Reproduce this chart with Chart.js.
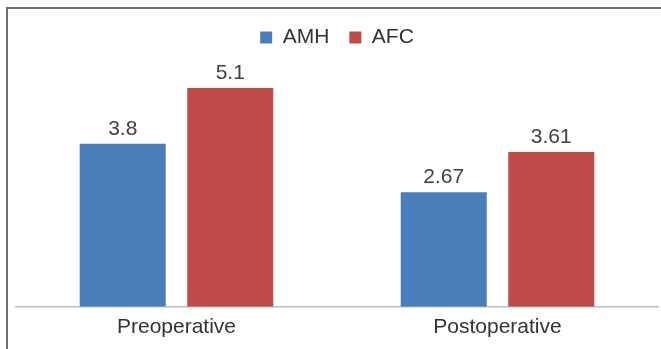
<!DOCTYPE html>
<html>
<head>
<meta charset="utf-8">
<script src="https://cdn.jsdelivr.net/npm/chart.js@4"></script>
<style>
  html, body { margin: 0; padding: 0; background: #fff; overflow: hidden; }
</style>
</head>
<body>
<canvas id="chart" width="661" height="349"></canvas>
<script>
const categories = ["Preoperative", "Postoperative"];
const amhValues = [3.8, 2.67];
const afcValues = [5.1, 3.61];
const seriesNames = ["AMH", "AFC"];

const FONT = '"Liberation Sans", Arial, sans-serif';

// outer frame (top + left edge only, like the cropped original)
const frame = {
  id: 'frame',
  beforeDraw(chart) {
    const ctx = chart.ctx;
    ctx.save();
    ctx.strokeStyle = '#6e6e6e';
    ctx.lineWidth = 2;
    ctx.beginPath();
    ctx.moveTo(7, chart.height);
    ctx.lineTo(7, 8);
    ctx.lineTo(chart.width, 8);
    ctx.stroke();
    ctx.restore();
  }
};

// value labels above bars
const valueLabels = {
  id: 'valueLabels',
  afterDatasetsDraw(chart) {
    const ctx = chart.ctx;
    ctx.save();
    ctx.font = '21px ' + FONT;
    ctx.fillStyle = '#404040';
    ctx.textAlign = 'center';
    ctx.textBaseline = 'alphabetic';
    chart.data.datasets.forEach((ds, i) => {
      chart.getDatasetMeta(i).data.forEach((bar, j) => {
        ctx.fillText(String(ds.data[j]), bar.x, bar.y - 9);
      });
    });
    ctx.restore();
  }
};

new Chart(document.getElementById("chart"), {
  type: 'bar',
  data: {
    labels: categories,
    datasets: [{
      label: seriesNames[0],
      data: amhValues,
      backgroundColor: '#4a7ebb'
    }, {
      label: seriesNames[1],
      data: afcValues,
      backgroundColor: '#be4b48'
    }]
  },
  options: {
    responsive: false,
    animation: false,
    layout: { padding: { left: 16, right: 3, top: 7, bottom: 1 } },
    datasets: {
      bar: { categoryPercentage: 0.67, barPercentage: 0.8 }
    },
    scales: {
      x: {
        grid: { display: false, drawTicks: false },
        border: { display: true, color: '#bfbfbf', width: 1.5 },
        ticks: {
          color: '#333',
          padding: 8,
          font: { family: FONT, size: 21 }
        }
      },
      y: {
        display: false,
        min: 0,
        max: 5.8
      }
    },
    plugins: {
      legend: {
        labels: {
          boxWidth: 12,
          boxHeight: 12,
          padding: 20,
          color: '#333',
          font: { family: FONT, size: 21 }
        }
      },
      tooltip: { enabled: false }
    }
  },
  plugins: [frame, valueLabels]
});
</script>
</body>
</html>
